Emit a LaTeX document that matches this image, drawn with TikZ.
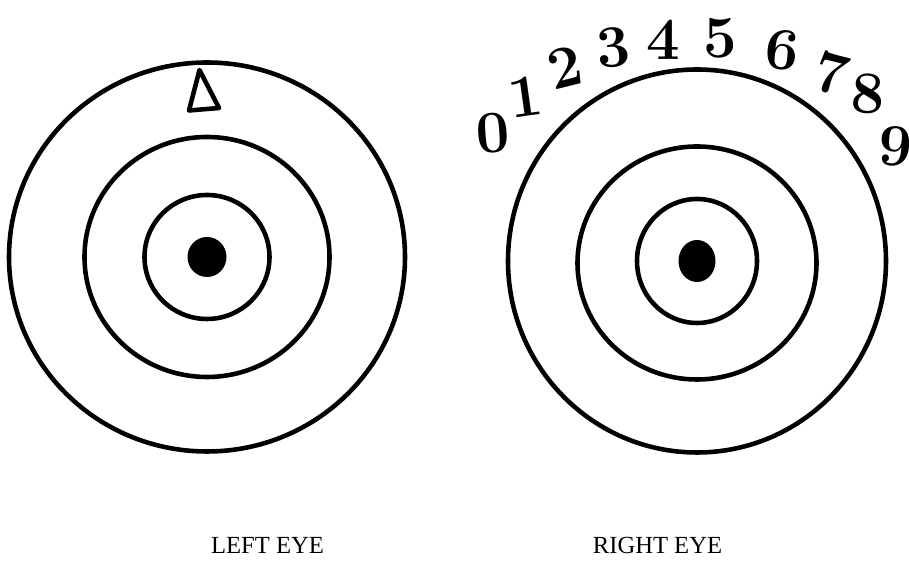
\documentclass[tikz,border=0pt]{standalone}
\usepackage{fontspec}
\newfontfamily\labelfont{Liberation Serif}
\begin{document}
\begin{tikzpicture}[scale=1, every node/.style={scale=1},
        ring/.style={color = black, line width=2.6pt},
        digit/.style={font=\fontsize{34}{36}\selectfont\bfseries, inner sep=0pt},
        eyelabel/.style={font=\labelfont\fontsize{14}{16}\selectfont, inner sep=0pt}]
        \useasboundingbox (0,0) rectangle (18.18,11.5);
        % left eye
        \coordinate (lc) at (4.14,6.36);
        \draw[ring] (lc) ellipse (3.96 and 3.89);
        \draw[ring] (lc) ellipse (2.45 and 2.40);
        \draw[ring] (lc) ellipse (1.25 and 1.24);
        \fill[color = black] (lc) ellipse (0.39 and 0.40);
        \draw[ring, line join=round] (3.99,10.10) -- (3.78,9.29) -- (4.38,9.34) -- cycle;
        % right eye
        \coordinate (rc) at (13.94,6.28);
        \draw[ring] (rc) ellipse (3.78 and 3.83);
        \draw[ring] (13.94,6.24) ellipse (2.39 and 2.33);
        \draw[ring] (rc) ellipse (1.20 and 1.24);
        \fill[color = black] (rc) ellipse (0.37 and 0.42);
        % scale round the right eye
        \node[digit, rotate=4]   (d0) at (9.86,8.84)  {0};
        \node[digit, rotate=8]   (d1) at (10.50,9.56) {1};
        \node[digit, rotate=14]  (d2) at (11.30,10.16) {2};
        \node[digit, rotate=6]   (d3) at (12.26,10.54) {3};
        \node[digit]             (d4) at (13.26,10.70) {4};
        \node[digit]             (d5) at (14.40,10.74) {5};
        \node[digit, rotate=-6]  (d6) at (15.64,10.50) {6};
        \node[digit, rotate=-14] (d7) at (16.64,10.04) {7};
        \node[digit, rotate=-2]  (d8) at (17.36,9.62)  {8};
        \node[digit, rotate=-4]  (d9) at (17.92,8.58)  {9};
        % labels
        \node[eyelabel] (leftlbl) at (5.35,0.60) {LEFT EYE};
        \node[eyelabel] (rightlbl) at (13.15,0.60) {RIGHT EYE};
\end{tikzpicture}
\end{document}
